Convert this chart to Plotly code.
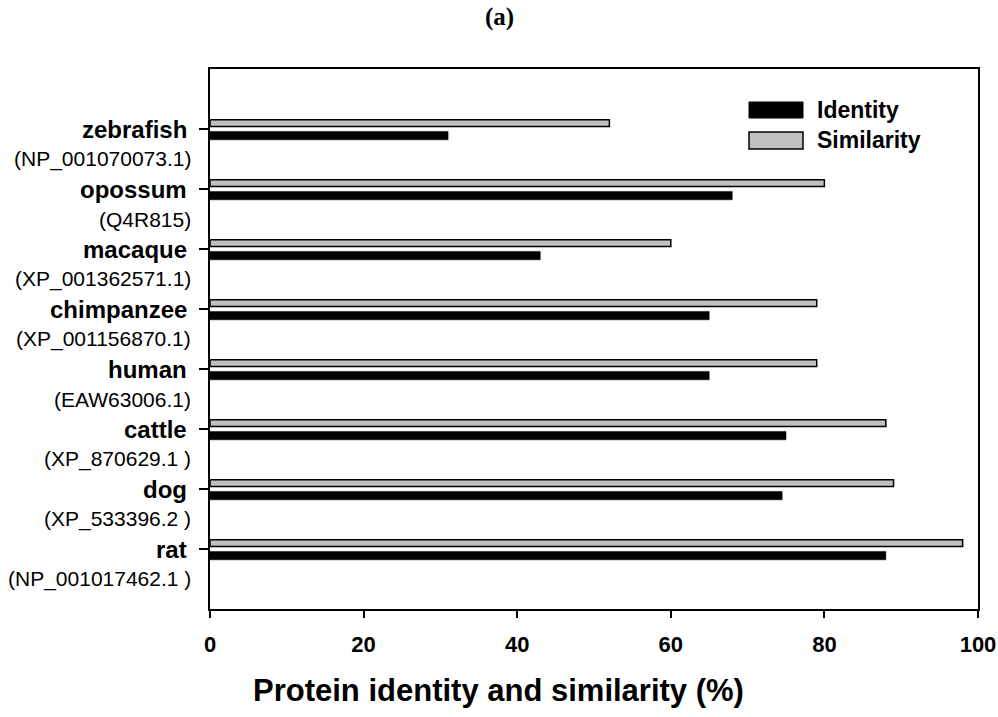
import plotly.graph_objects as go

species = ["rat", "dog", "cattle", "human", "chimpanzee", "macaque", "opossum", "zebrafish"]
accessions = ["(NP_001017462.1 )", "(XP_533396.2 )", "(XP_870629.1 )", "(EAW63006.1)",
              "(XP_001156870.1)", "(XP_001362571.1)", "(Q4R815)", "(NP_001070073.1)"]
identity = [88, 74.5, 75, 65, 65, 43, 68, 31]
similarity = [98, 89, 88, 79, 79, 60, 80, 52]
x_ticks = [0, 20, 40, 60, 80, 100]

pos = list(range(len(species)))

L, R, T, B = 210, 20, 69, 108
W, H = 998, 717
pw, ph = W - L - R, H - T - B

def px(x):
    return (x - L) / pw

def py(y):
    return (H - B - y) / ph

FONT = "Arial, Liberation Sans, sans-serif"

fig = go.Figure()
fig.add_trace(go.Bar(
    y=pos, x=similarity, orientation="h", name="Similarity",
    width=0.115, offset=0.04,
    marker=dict(color="#c0c0c0", line=dict(color="black", width=1.5)),
    showlegend=False,
))
fig.add_trace(go.Bar(
    y=pos, x=identity, orientation="h", name="Identity",
    width=0.14, offset=-0.18,
    marker=dict(color="black", line=dict(color="black", width=0.5)),
    showlegend=False,
))

annotations = []
for p, s, a in zip(pos, species, accessions):
    annotations.append(dict(
        x=0, xref="paper", y=p, yref="y", text="<b>" + s + "</b>",
        xanchor="right", yanchor="middle", xshift=-21, showarrow=False,
        font=dict(family=FONT, size=24, color="black"),
    ))
    annotations.append(dict(
        x=0, xref="paper", y=p, yref="y", text=a,
        xanchor="right", yanchor="middle", xshift=-17, yshift=-30, showarrow=False,
        font=dict(family=FONT, size=21, color="black"),
    ))

# legend text
annotations.append(dict(x=px(815), y=py(110), xref="paper", yref="paper", text="<b>Identity</b>",
                        xanchor="left", yanchor="middle", showarrow=False,
                        font=dict(family=FONT, size=23, color="black")))
annotations.append(dict(x=px(815), y=py(140), xref="paper", yref="paper", text="<b>Similarity</b>",
                        xanchor="left", yanchor="middle", showarrow=False,
                        font=dict(family=FONT, size=23, color="black")))
# axis title
annotations.append(dict(x=px(498), y=py(690), xref="paper", yref="paper",
                        text="<b>Protein identity and similarity (%)</b>",
                        xanchor="center", yanchor="middle", showarrow=False,
                        font=dict(family=FONT, size=31, color="black")))
# panel title
annotations.append(dict(x=px(499), y=py(17), xref="paper", yref="paper",
                        text="<b>(a)</b>", xanchor="center", yanchor="middle", showarrow=False,
                        font=dict(family="Liberation Serif, Times New Roman, serif", size=25, color="black")))

shapes = [
    dict(type="rect", xref="paper", yref="paper", x0=px(749), x1=px(803), y0=py(118), y1=py(102),
         fillcolor="black", line=dict(color="black", width=1)),
    dict(type="rect", xref="paper", yref="paper", x0=px(749), x1=px(803), y0=py(149), y1=py(132),
         fillcolor="#c0c0c0", line=dict(color="black", width=1.5)),
]

fig.update_layout(
    width=W, height=H,
    margin=dict(l=L, r=R, t=T, b=B, autoexpand=False),
    paper_bgcolor="white", plot_bgcolor="white",
    barmode="overlay",
    annotations=annotations, shapes=shapes,
    xaxis=dict(range=[0, 100], tickvals=x_ticks, ticktext=["<b>" + str(v) + "</b>" for v in x_ticks],
               showgrid=False, zeroline=False, showline=True, linecolor="black", linewidth=2,
               mirror=True, ticks="outside", ticklen=7, tickwidth=1.5, tickcolor="black",
               ticklabelstandoff=8,
               tickfont=dict(family=FONT, size=22, color="black")),
    yaxis=dict(range=[-1, 8], tickvals=pos, showticklabels=False,
               showgrid=False, zeroline=False, showline=True, linecolor="black", linewidth=2,
               mirror=True, ticks="outside", ticklen=9, tickwidth=1.5, tickcolor="black"),
)

fig.write_html("out.html")
